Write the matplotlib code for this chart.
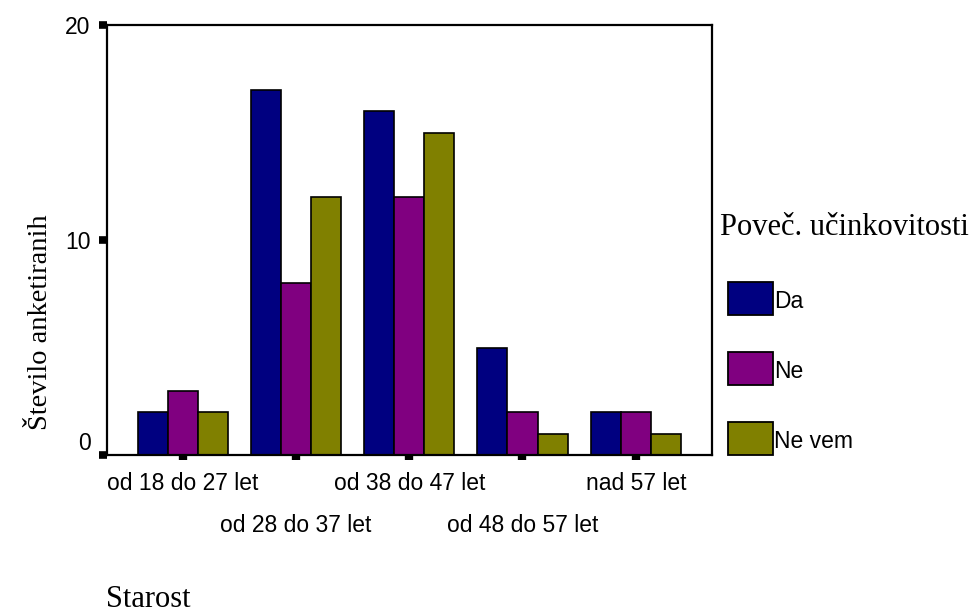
import numpy as np
import matplotlib
matplotlib.use('Agg')
import matplotlib.pyplot as plt
from matplotlib.patches import Rectangle
import matplotlib.transforms as mtransforms

# data
categories = ['od 18 do 27 let', 'od 28 do 37 let', 'od 38 do 47 let',
              'od 48 do 57 let', 'nad 57 let']
da = [2, 17, 16, 5, 2]
ne = [3, 8, 12, 2, 2]
ne_vem = [2, 12, 15, 1, 1]
series_names = ['Da', 'Ne', 'Ne vem']
colors = ['#000080', '#800080', '#808000']

W, H = 974, 615
fig = plt.figure(figsize=(W / 100, H / 100), dpi=100)
ax = fig.add_axes([106.7 / W, 1 - 455 / H, 605 / W, 430 / H])

x = np.arange(len(categories))
bw = 0.265
for i, vals in enumerate([da, ne, ne_vem]):
    ax.bar(x + (i - 1) * bw, vals, bw, color=colors[i],
           edgecolor='black', linewidth=1.2, zorder=2)

ax.set_xlim(-0.67, 4.67)
ax.set_ylim(0, 20)
ax.set_yticks([0, 10, 20])
ax.set_xticks(x)
ax.set_xticklabels(categories)

for s in ax.spines.values():
    s.set_linewidth(1.6)

ax.tick_params(axis='y', direction='out', length=5.5, width=5.5, pad=6,
               labelsize=16.5, labelfontfamily='Liberation Sans')
ax.tick_params(axis='x', direction='out', length=3.5, width=6, pad=9,
               labelsize=16.5, labelfontfamily='Liberation Sans')

# lift the 0 label like the original
ylabs = ax.get_yticklabels()
ylabs[0].set_va('bottom')

# stagger the x labels
for i, lab in enumerate(ax.get_xticklabels()):
    if i % 2 == 1:
        lab.set_transform(lab.get_transform() +
                          mtransforms.ScaledTranslation(0, -42 / 100, fig.dpi_scale_trans))

fig.text(41 / W, 1 - 322 / H, 'Število anketiranih', rotation=90,
         ha='center', va='center', fontsize=20.5, family='Liberation Serif')
fig.text(106 / W, 1 - 614 / H, 'Starost', ha='left', va='bottom',
         fontsize=22, family='Liberation Serif')

# legend
fig.text(720 / W, 1 - 235 / H, 'Poveč. učinkovitosti', ha='left', va='baseline',
         fontsize=22, family='Liberation Serif')
tops = [282, 352, 422]
for i, name in enumerate(series_names):
    fig.add_artist(Rectangle((728 / W, 1 - (tops[i] + 33) / H), 45 / W, 33 / H,
                             facecolor=colors[i], edgecolor='black', linewidth=1.3,
                             transform=fig.transFigure))
    fig.text(774 / W, 1 - (tops[i] + 20) / H, name, ha='left', va='center',
             fontsize=16.5, family='Liberation Sans')

fig.savefig('out.png', dpi=100)
